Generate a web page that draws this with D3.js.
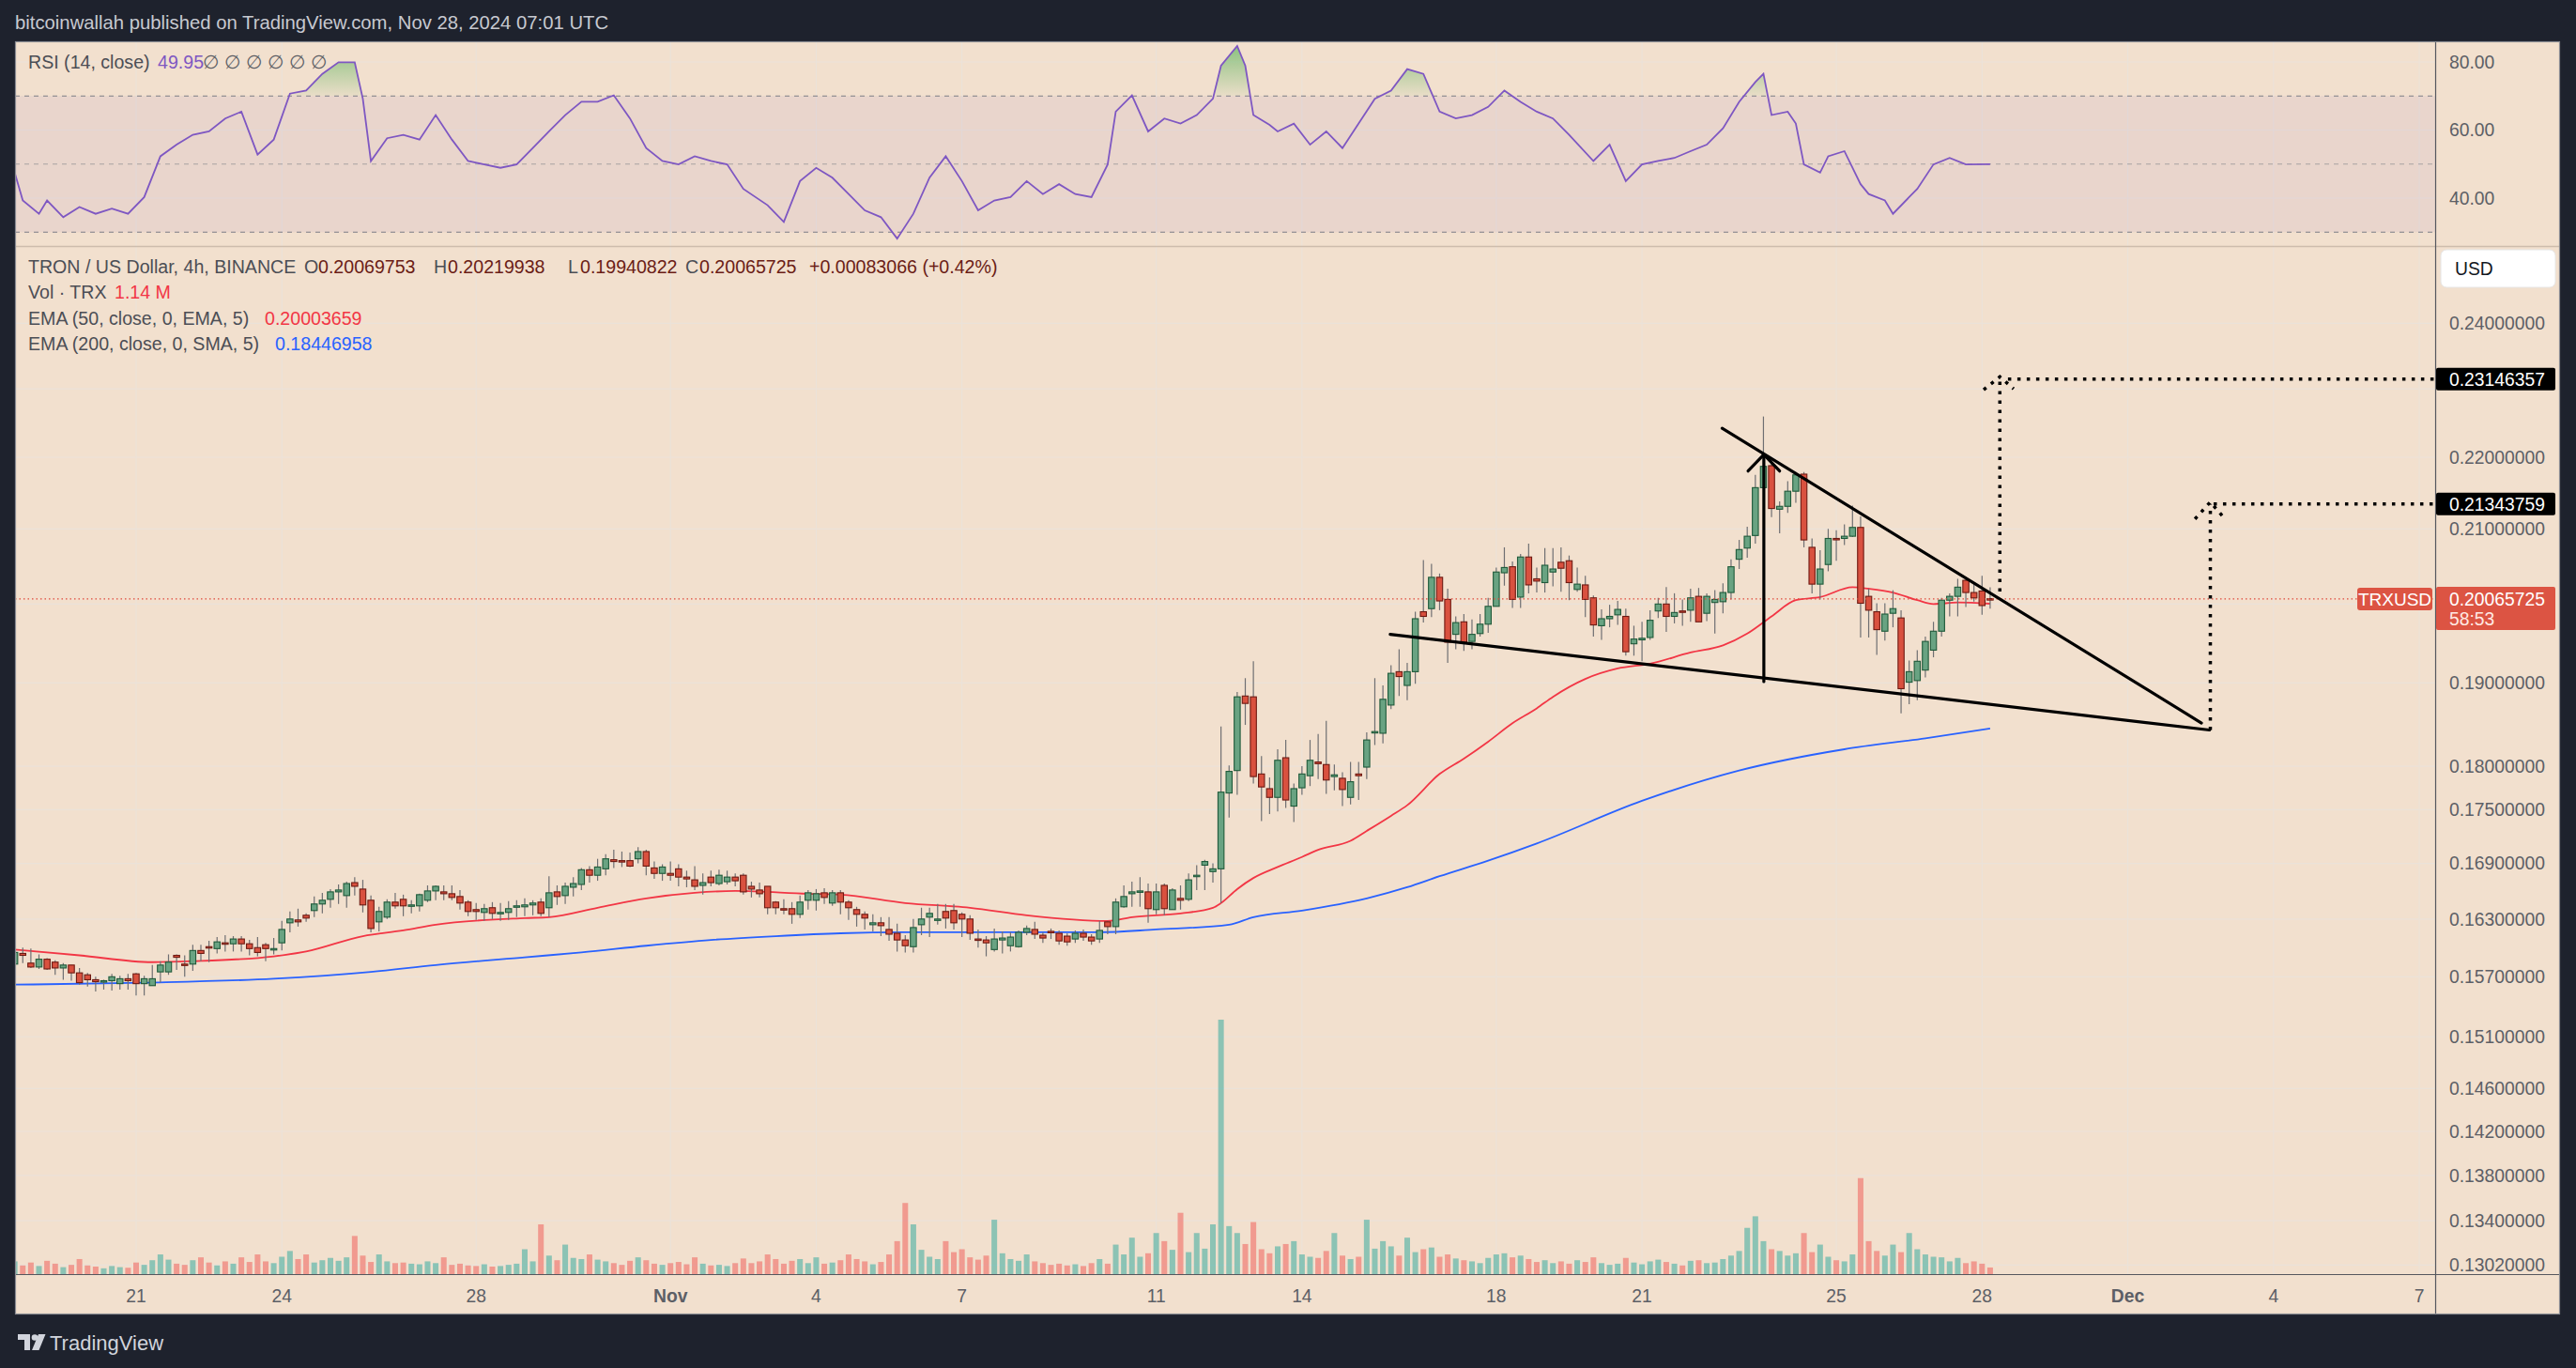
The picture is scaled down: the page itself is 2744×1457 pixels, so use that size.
<!DOCTYPE html>
<html><head><meta charset="utf-8">
<script src="https://cdn.jsdelivr.net/npm/d3@7"></script>
<style>
body{margin:0;background:#1e222d;overflow:hidden}
svg{display:block}
text{font-family:"Liberation Sans",Arial,sans-serif}
</style></head>
<body><svg id="c" width="2744" height="1457"></svg>
<script>
// ---------------- DATA ----------------
const firstCandle = Date.UTC(2024,9,18,12); // 4h candles
const open = [
0.1583,0.1594,0.1584,0.1580,0.1588,0.1585,0.1579,0.1582,0.1574,0.1572,
0.1567,0.1565,0.1566,0.1563,0.1568,0.1573,0.1563,0.1561,0.1575,0.1575,
0.1592,0.1583,0.1583,0.1597,0.1601,0.1599,0.1605,0.1604,0.1609,0.1604,
0.1600,0.1603,0.1598,0.1605,0.1626,0.1629,0.1634,0.1639,0.1646,0.1651,
0.1659,0.1655,0.1669,0.1662,0.1650,0.1627,0.1632,0.1648,0.1651,0.1644,
0.1644,0.1650,0.1660,0.1659,0.1657,0.1654,0.1648,0.1640,0.1637,0.1642,
0.1636,0.1637,0.1643,0.1643,0.1645,0.1648,0.1642,0.1659,0.1655,0.1664,
0.1667,0.1683,0.1677,0.1684,0.1694,0.1693,0.1693,0.1695,0.1703,0.1685,
0.1679,0.1679,0.1684,0.1675,0.1672,0.1666,0.1675,0.1668,0.1670,0.1675,
0.1677,0.1665,0.1661,0.1665,0.1648,0.1641,0.1641,0.1635,0.1650,0.1650,
0.1658,0.1647,0.1658,0.1648,0.1640,0.1635,0.1624,0.1626,0.1619,0.1615,
0.1608,0.1601,0.1624,0.1632,0.1629,0.1638,0.1639,0.1635,0.1630,0.1609,
0.1608,0.1598,0.1608,0.1602,0.1601,0.1616,0.1619,0.1613,0.1617,0.1615,
0.1612,0.1609,0.1615,0.1611,0.1609,0.1627,0.1622,0.1643,0.1657,0.1659,
0.1659,0.1640,0.1666,0.1640,0.1652,0.1651,0.1676,0.1688,0.1681,0.1684,
0.1769,0.1795,0.1884,0.1883,0.1791,0.1774,0.1764,0.1810,0.1754,0.1775,
0.1789,0.1805,0.1802,0.1788,0.1786,0.1764,0.1791,0.1799,0.1840,0.1839,
0.1873,0.1914,0.1897,0.1914,0.1990,0.1994,0.2035,0.2006,0.1961,0.1977,
0.1952,0.1962,0.1974,0.1997,0.2041,0.2049,0.2009,0.2062,0.2033,0.2028,
0.2042,0.2055,0.2057,0.2019,0.2025,0.2008,0.1972,0.1981,0.1986,0.1984,
0.1949,0.1954,0.1957,0.1991,0.2000,0.1984,0.1991,0.1992,0.2010,0.1988,
0.2002,0.2003,0.2015,0.2059,0.2074,0.2091,0.2157,0.2188,0.2127,0.2131,
0.2152,0.2176,0.2075,0.2026,0.2052,0.2087,0.2087,0.2090,0.2102,0.2010,
0.1990,0.1965,0.1988,0.1982,0.1901,0.1903,0.1916,0.1941,0.1965,0.2005,
0.2010,0.2031,0.2015,0.2017,0.20069753];
const high = [
0.1596,0.1600,0.1599,0.1593,0.1589,0.1587,0.1584,0.1582,0.1579,0.1574,
0.1570,0.1567,0.1573,0.1571,0.1573,0.1574,0.1571,0.1582,0.1586,0.1593,
0.1593,0.1592,0.1603,0.1603,0.1607,0.1611,0.1613,0.1612,0.1612,0.1608,
0.1611,0.1605,0.1610,0.1628,0.1638,0.1641,0.1636,0.1654,0.1658,0.1662,
0.1667,0.1670,0.1675,0.1672,0.1655,0.1643,0.1651,0.1658,0.1656,0.1650,
0.1657,0.1666,0.1666,0.1666,0.1666,0.1661,0.1650,0.1647,0.1646,0.1648,
0.1647,0.1649,0.1650,0.1652,0.1650,0.1652,0.1676,0.1666,0.1669,0.1675,
0.1685,0.1687,0.1695,0.1700,0.1705,0.1703,0.1702,0.1708,0.1705,0.1692,
0.1689,0.1692,0.1689,0.1682,0.1687,0.1679,0.1682,0.1683,0.1682,0.1679,
0.1679,0.1670,0.1669,0.1665,0.1649,0.1651,0.1648,0.1655,0.1661,0.1662,
0.1663,0.1661,0.1661,0.1650,0.1643,0.1638,0.1635,0.1632,0.1632,0.1625,
0.1613,0.1630,0.1642,0.1642,0.1646,0.1646,0.1646,0.1637,0.1634,0.1619,
0.1612,0.1620,0.1617,0.1616,0.1618,0.1623,0.1627,0.1616,0.1620,0.1618,
0.1615,0.1618,0.1619,0.1614,0.1628,0.1628,0.1652,0.1666,0.1670,0.1675,
0.1668,0.1668,0.1668,0.1663,0.1666,0.1679,0.1688,0.1694,0.1690,0.1847,
0.1801,0.1889,0.1906,0.1927,0.1812,0.1787,0.1820,0.1831,0.1780,0.1800,
0.1831,0.1838,0.1854,0.1802,0.1793,0.1805,0.1805,0.1840,0.1906,0.1897,
0.1922,0.1942,0.1925,0.1990,0.2058,0.2053,0.2040,0.2020,0.1984,0.1987,
0.1980,0.1987,0.2008,0.2048,0.2075,0.2056,0.2066,0.2080,0.2048,0.2074,
0.2074,0.2075,0.2064,0.2048,0.2037,0.2011,0.1993,0.1999,0.2004,0.1994,
0.1972,0.1977,0.1992,0.2008,0.2022,0.2014,0.2006,0.2020,0.2021,0.2014,
0.2018,0.2027,0.2059,0.2085,0.2103,0.2175,0.2259,0.2196,0.2138,0.2166,
0.2179,0.2179,0.2087,0.2071,0.2100,0.2098,0.2106,0.2132,0.2117,0.2020,
0.2001,0.2001,0.2018,0.1992,0.1928,0.1941,0.1958,0.1977,0.2008,0.2014,
0.2033,0.2035,0.2028,0.2037,0.20219938];
const low = [
0.1582,0.1584,0.1579,0.1578,0.1577,0.1572,0.1567,0.1566,0.1562,0.1560,
0.1555,0.1557,0.1556,0.1557,0.1557,0.1551,0.1551,0.1561,0.1564,0.1572,
0.1577,0.1570,0.1576,0.1586,0.1585,0.1594,0.1596,0.1596,0.1596,0.1592,
0.1591,0.1586,0.1593,0.1597,0.1616,0.1622,0.1627,0.1632,0.1636,0.1642,
0.1646,0.1642,0.1655,0.1637,0.1616,0.1617,0.1630,0.1641,0.1633,0.1636,
0.1638,0.1648,0.1650,0.1650,0.1650,0.1640,0.1633,0.1629,0.1628,0.1630,
0.1628,0.1629,0.1632,0.1633,0.1634,0.1633,0.1632,0.1645,0.1646,0.1654,
0.1661,0.1669,0.1671,0.1677,0.1685,0.1686,0.1686,0.1690,0.1677,0.1673,
0.1671,0.1671,0.1665,0.1664,0.1661,0.1656,0.1665,0.1666,0.1667,0.1665,
0.1656,0.1653,0.1653,0.1635,0.1635,0.1635,0.1625,0.1631,0.1640,0.1639,
0.1646,0.1644,0.1635,0.1629,0.1622,0.1619,0.1617,0.1612,0.1607,0.1596,
0.1595,0.1595,0.1613,0.1611,0.1624,0.1620,0.1619,0.1611,0.1608,0.1600,
0.1591,0.1596,0.1594,0.1596,0.1600,0.1613,0.1609,0.1605,0.1609,0.1603,
0.1602,0.1605,0.1607,0.1603,0.1605,0.1614,0.1614,0.1642,0.1643,0.1643,
0.1626,0.1635,0.1634,0.1640,0.1640,0.1649,0.1661,0.1661,0.1669,0.1647,
0.1741,0.1767,0.1849,0.1780,0.1737,0.1745,0.1748,0.1752,0.1736,0.1767,
0.1777,0.1785,0.1768,0.1772,0.1754,0.1756,0.1761,0.1785,0.1825,0.1827,
0.1868,0.1884,0.1879,0.1899,0.1976,0.1983,0.1992,0.1925,0.1942,0.1940,
0.1942,0.1958,0.1963,0.1997,0.2024,0.1995,0.1995,0.2014,0.2015,0.2015,
0.2023,0.2016,0.2005,0.2016,0.1983,0.1958,0.1954,0.1970,0.1973,0.1934,
0.1934,0.1927,0.1954,0.1982,0.1964,0.1975,0.1972,0.1977,0.1977,0.1978,
0.1962,0.1988,0.2006,0.2046,0.2061,0.2080,0.2157,0.2116,0.2094,0.2122,
0.2136,0.2075,0.2014,0.2006,0.2043,0.2057,0.2078,0.2089,0.1957,0.1957,
0.1935,0.1953,0.1970,0.1863,0.1874,0.1879,0.1907,0.1932,0.1958,0.1984,
0.1984,0.1996,0.2003,0.1986,0.19940822];
const close = [
0.1595,0.1592,0.1580,0.1588,0.1578,0.1579,0.1582,0.1574,0.1564,0.1567,
0.1565,0.1566,0.1570,0.1568,0.1566,0.1563,0.1568,0.1568,0.1582,0.1585,
0.1590,0.1582,0.1597,0.1594,0.1600,0.1606,0.1604,0.1609,0.1604,0.1599,
0.1595,0.1599,0.1599,0.1619,0.1630,0.1627,0.1631,0.1646,0.1650,0.1659,
0.1661,0.1668,0.1665,0.1645,0.1620,0.1638,0.1648,0.1644,0.1644,0.1645,
0.1656,0.1660,0.1665,0.1657,0.1653,0.1647,0.1638,0.1638,0.1641,0.1636,
0.1637,0.1641,0.1644,0.1645,0.1647,0.1636,0.1658,0.1654,0.1665,0.1668,
0.1683,0.1677,0.1686,0.1695,0.1692,0.1692,0.1687,0.1703,0.1687,0.1679,
0.1686,0.1677,0.1675,0.1673,0.1665,0.1669,0.1669,0.1677,0.1675,0.1671,
0.1659,0.1662,0.1657,0.1642,0.1642,0.1640,0.1635,0.1648,0.1658,0.1657,
0.1653,0.1658,0.1648,0.1642,0.1635,0.1631,0.1626,0.1623,0.1614,0.1608,
0.1602,0.1621,0.1630,0.1636,0.1630,0.1631,0.1626,0.1630,0.1615,0.1608,
0.1605,0.1609,0.1610,0.1611,0.1616,0.1620,0.1614,0.1610,0.1616,0.1607,
0.1606,0.1615,0.1611,0.1607,0.1618,0.1622,0.1648,0.1654,0.1659,0.1660,
0.1641,0.1659,0.1641,0.1661,0.1650,0.1672,0.1677,0.1692,0.1684,0.1770,
0.1794,0.1883,0.1875,0.1788,0.1776,0.1764,0.1807,0.1761,0.1774,0.1791,
0.1807,0.1803,0.1784,0.1790,0.1773,0.1782,0.1789,0.1831,0.1841,0.1880,
0.1912,0.1908,0.1914,0.1981,0.1984,0.2035,0.2004,0.1951,0.1976,0.1951,
0.1961,0.1974,0.1997,0.2042,0.2048,0.2006,0.2062,0.2025,0.2030,0.2051,
0.2046,0.2047,0.2028,0.2026,0.2006,0.1973,0.1981,0.1984,0.1993,0.1939,
0.1955,0.1956,0.1979,0.2000,0.1984,0.1989,0.1990,0.2008,0.1977,0.2010,
0.2006,0.2015,0.2049,0.2072,0.2090,0.2157,0.2187,0.2128,0.2131,0.2152,
0.2175,0.2085,0.2026,0.2046,0.2087,0.2086,0.2090,0.2102,0.2001,0.1992,
0.1967,0.1987,0.1994,0.1893,0.1914,0.1927,0.1952,0.1965,0.2005,0.2010,
0.2022,0.2015,0.2008,0.1998,0.20065725];
// volume, millions of TRX
const volume = [
2.2,1.5,2.0,1.4,2.3,1.8,1.2,1.6,2.6,1.5,
1.3,1.0,1.4,1.2,1.1,2.0,1.6,2.4,3.4,2.5,
1.8,1.6,2.4,2.9,2.0,1.5,2.2,1.8,2.9,2.1,
3.4,2.2,1.9,3.0,4.0,2.6,3.4,2.0,2.4,2.8,
2.3,2.9,6.6,3.2,2.1,3.4,2.2,1.9,2.0,1.8,
1.7,2.2,1.9,2.9,1.6,1.8,1.5,1.4,1.7,1.3,
1.4,1.6,1.8,4.3,2.2,8.6,3.2,2.4,5.1,2.8,
2.6,3.4,2.5,2.2,1.9,1.6,2.3,2.9,2.4,1.8,
1.6,1.9,2.1,1.7,2.9,1.8,1.5,1.6,1.4,1.9,
2.7,1.9,2.2,3.4,2.6,1.8,2.3,2.6,1.9,2.9,
1.8,2.0,2.4,3.4,2.6,2.2,1.7,2.1,3.4,5.7,
12.3,8.6,4.2,3.0,2.6,5.7,3.8,4.3,2.9,2.5,
3.2,9.4,3.6,2.6,2.3,3.4,2.2,1.9,1.6,1.8,
1.5,1.7,1.4,1.9,2.6,1.8,5.1,3.4,6.3,3.0,
3.6,7.1,5.7,4.2,10.6,3.8,7.1,4.4,8.6,44,
8.3,7.1,5.2,9.0,4.3,3.6,4.8,5.2,5.7,3.4,
3.0,2.8,4.0,7.1,3.2,2.6,3.0,9.4,4.4,5.7,
4.8,3.2,6.3,3.8,4.3,4.6,3.0,3.4,2.7,2.4,
2.2,1.9,2.8,3.4,3.6,2.9,3.2,2.6,2.1,2.4,
1.9,2.2,1.8,2.4,2.1,2.9,1.9,1.6,1.8,2.8,
2.0,1.7,2.2,2.5,2.1,1.8,1.5,2.3,2.4,1.9,
2.0,2.6,3.2,4.0,8.0,10.0,5.7,4.3,4.0,3.2,
3.6,7.1,3.8,5.1,3.0,2.4,2.2,3.4,16.6,5.7,
4.0,3.2,5.1,3.8,7.1,4.3,3.4,3.0,2.9,2.2,
2.8,1.9,2.2,1.8,1.14];
// EMA lines read at candle indices
const ema50Idx = [0,8,17,22,32,36,43,48,52,63,66,72,78,84,89,98,102,110,118,125,135,138,144,148,149,151,153,156,159,161,165,167,170,172,176,179,182,185,188,190,194,198,202,207,211,214,217,220,223,227,229,232,235,237,240,244];
const ema50Val = [0.1598,0.1592,0.1585,0.1586,0.1591,0.1596,0.1612,0.1618,0.1624,0.1631,0.1632,0.1642,0.1652,0.1658,0.1660,0.1657,0.1656,0.1647,0.1642,0.1634,0.1628,0.1632,0.1636,0.1642,0.1647,0.1662,0.1674,0.1686,0.1697,0.1705,0.1715,0.1726,0.1743,0.1755,0.1791,0.1809,0.1829,0.1851,0.1869,0.1883,0.1905,0.1918,0.1924,0.1938,0.1947,0.1962,0.1984,0.2005,0.2009,0.2022,0.2020,0.2015,0.2005,0.2000,0.2002,0.20003659];
const ema200Idx = [0,16,32,44,52,63,70,78,86,94,102,110,118,125,134,141,150,153,159,167,172,176,182,188,201,213,226,236,244];
const ema200Val = [0.1562,0.1564,0.1568,0.1575,0.1582,0.1590,0.1595,0.1602,0.1608,0.1612,0.1615,0.1616,0.1616,0.1616,0.1616,0.1619,0.1624,0.1632,0.1639,0.1652,0.1664,0.1676,0.1693,0.1712,0.1760,0.1795,0.1820,0.1833,0.18446958];
// RSI (14) read at candle indices
const rsiIdx = [0,1,3,4,6,8,10,12,14,16,18,20,22,24,26,28,30,32,34,36,38,40,42,43,44,46,48,50,52,54,56,58,60,62,64,66,68,70,72,74,76,78,80,82,84,86,88,90,93,95,97,99,101,103,105,107,109,111,113,115,117,119,121,123,125,127,129,131,133,135,136,138,140,142,144,146,148,149,151,152,153,155,156,158,160,162,164,166,168,170,172,174,176,178,180,182,184,186,188,190,192,195,197,199,201,203,205,207,209,211,213,215,216,217,219,220,221,223,224,226,228,229,231,232,234,235,237,239,241,244];
const rsiVal = [47.5,39.3,35.4,39.3,34.4,37.4,35.4,36.9,35.4,40.3,52.3,55.7,58.6,59.6,63.4,65.4,52.8,57.2,70.7,71.6,76.5,79.9,79.9,69.2,50.9,57.6,58.6,57.2,64.4,57.2,50.9,49.9,48.9,49.9,54.7,59.6,64.4,68.3,68.3,70.2,63.4,54.7,50.9,49.9,52.3,50.9,49.9,42.7,37.9,33.0,45.0,48.9,46.0,41.2,36.4,34.4,28.1,35.4,46.0,52.3,45.0,36.4,39.3,40.3,45.0,41.2,44.1,41.2,40.3,49.9,65.4,70.2,59.6,63.4,61.9,64.4,69.2,78.9,84.7,78.9,64.4,61.5,59.6,61.9,55.7,59.6,54.7,61.9,69.2,71.6,77.9,76.5,65.4,63.4,64.4,66.8,71.6,68.3,65.4,63.4,58.6,50.9,55.7,45.0,49.9,50.9,51.8,53.8,55.7,60.5,68.3,74.1,76.5,64.4,65.4,61.9,49.9,47.5,52.3,53.8,44.1,41.2,39.3,35.4,40.3,42.7,49.9,51.8,49.9,49.95];
// ticks
const priceTicks = [0.24,0.23,0.22,0.21,0.20,0.19,0.18,0.175,0.169,0.163,0.157,0.151,0.146,0.142,0.138,0.134,0.1302];
const hiddenTicks = [0.23,0.20]; // covered by price badges
const rsiTicks = [80,60,40];
const dateTicks = [[2024,9,21],[2024,9,24],[2024,9,28],[2024,10,1],[2024,10,4],[2024,10,7],[2024,10,11],[2024,10,14],[2024,10,18],[2024,10,21],[2024,10,25],[2024,10,28],[2024,11,1],[2024,11,4],[2024,11,7]];
const dateLabels = ["21","24","28","Nov","4","7","11","14","18","21","25","28","Dec","4","7"];
// drawings: [candle index, price]
const upperLine = [[210.9,0.22419],[270.1,0.18513]];
const lowerLine = [[169.9,0.19609],[271.1,0.18429]];
const poleLine = [[216.05,0.2204],[216.05,0.19017]];
const poleHead = [[214.1,0.21804],[216.05,0.2204],[218.0,0.21804]];
const target1 = 0.23146357, target2 = 0.21343759;
const proj1 = [[245.2,0.20163],[245.2,0.23146357]];
const head1 = [[243.2,0.22987],[245.2,0.2318],[246.9,0.2300]];
const proj2 = [[271.2,0.18429],[271.2,0.21343759]];
const head2 = [[269.3,0.21136],[271.2,0.2137],[272.9,0.2115]];
const lastPrice = 0.20065725;

// ---------------- LAYOUT ----------------
const W=2744,H=1457, L=16, PR=2594, AR=2727, T=44, RB=262, MT=263, MB=1357, TB=1400;
const BG="#f2e0ce", GRID="#ebe2d9", AXT="#5d5f66", LEG="#4c4e55";
const svg=d3.select("#c");
const x=d3.scaleUtc().domain([new Date(Date.UTC(2024,9,21)),new Date(Date.UTC(2024,11,7))]).range([145,2577]);
const H4=4*3600*1000;
const xi=i=>x(new Date(firstCandle+i*H4));
const y=d3.scaleLog().domain([0.24,0.1302]).range([344.3,1347.3]);
const yR=d3.scaleLinear().domain([80,40]).range([66,211]);
const yV=d3.scaleLinear().domain([0,44]).range([MB,MB-271]);

svg.append("rect").attr("width",W).attr("height",H).attr("fill","#1e222d");
svg.append("rect").attr("x",L).attr("y",T).attr("width",AR-L).attr("height",TB-T).attr("fill",BG);

const defs=svg.append("defs");
defs.append("clipPath").attr("id","cm").append("rect").attr("x",L).attr("y",MT).attr("width",PR-L).attr("height",MB-MT);
defs.append("clipPath").attr("id","cr").append("rect").attr("x",L).attr("y",T).attr("width",PR-L).attr("height",RB-T);
defs.append("clipPath").attr("id","cob").append("rect").attr("x",L).attr("y",T).attr("width",PR-L).attr("height",yR(70)-T);
defs.append("clipPath").attr("id","cos").append("rect").attr("x",L).attr("y",yR(30)).attr("width",PR-L).attr("height",RB-yR(30));
const gOB=defs.append("linearGradient").attr("id","gob").attr("x1",0).attr("x2",0).attr("gradientUnits","userSpaceOnUse").attr("y1",yR(88)).attr("y2",yR(70));
gOB.append("stop").attr("offset",0).attr("stop-color","rgba(76,175,80,0.75)");
gOB.append("stop").attr("offset",1).attr("stop-color","rgba(76,175,80,0.05)");
const gOS=defs.append("linearGradient").attr("id","gos").attr("x1",0).attr("x2",0).attr("gradientUnits","userSpaceOnUse").attr("y1",yR(30)).attr("y2",yR(15));
gOS.append("stop").attr("offset",0).attr("stop-color","rgba(242,54,69,0.05)");
gOS.append("stop").attr("offset",1).attr("stop-color","rgba(242,54,69,0.75)");

// grid
const grid=svg.append("g");
dateTicks.forEach(d=>{const xx=x(new Date(Date.UTC(d[0],d[1],d[2])));
  grid.append("line").attr("x1",xx).attr("x2",xx).attr("y1",T).attr("y2",MB).attr("stroke",GRID).attr("stroke-width",1.2);});
priceTicks.forEach(p=>grid.append("line").attr("x1",L).attr("x2",PR).attr("y1",y(p)).attr("y2",y(p)).attr("stroke",GRID).attr("stroke-width",1.2));
rsiTicks.forEach(v=>grid.append("line").attr("x1",L).attr("x2",PR).attr("y1",yR(v)).attr("y2",yR(v)).attr("stroke",GRID).attr("stroke-width",1.2));

// RSI pane
const rg=svg.append("g").attr("clip-path","url(#cr)");
rg.append("rect").attr("x",L).attr("width",PR-L).attr("y",yR(70)).attr("height",yR(30)-yR(70)).attr("fill","rgba(126,87,194,0.08)");
[[70,"#7c7e87"],[50,"rgba(124,126,135,0.6)"],[30,"#7c7e87"]].forEach(([v,c])=>
  rg.append("line").attr("x1",L).attr("x2",PR).attr("y1",yR(v)).attr("y2",yR(v)).attr("stroke",c).attr("stroke-dasharray","5,5"));
const rsiPts=rsiIdx.map((k,j)=>[xi(k),yR(rsiVal[j])]);
rg.append("path").attr("clip-path","url(#cob)").attr("d",d3.area().x(d=>d[0]).y0(yR(70)).y1(d=>d[1])(rsiPts)).attr("fill","url(#gob)");
rg.append("path").attr("clip-path","url(#cos)").attr("d",d3.area().x(d=>d[0]).y0(yR(30)).y1(d=>d[1])(rsiPts)).attr("fill","url(#gos)");
rg.append("path").attr("d",d3.line()(rsiPts)).attr("fill","none").attr("stroke","#7e57c2").attr("stroke-width",1.8);

// separator between panes
svg.append("line").attr("x1",L).attr("x2",AR).attr("y1",RB+0.5).attr("y2",RB+0.5).attr("stroke","#cdbdad").attr("stroke-width",1.5);

// main pane
const mg=svg.append("g").attr("clip-path","url(#cm)");
const N=close.length, idx=d3.range(N);
mg.selectAll("rect.v").data(idx).join("rect").attr("x",i=>xi(i)-3).attr("width",6)
  .attr("y",i=>yV(volume[i])).attr("height",i=>MB-yV(volume[i]))
  .attr("fill",i=>close[i]>=open[i]?"rgba(38,166,154,0.5)":"rgba(239,83,80,0.5)");
const ln=d3.line().x(d=>d[0]).y(d=>d[1]).curve(d3.curveMonotoneX);
mg.append("path").attr("d",ln(ema200Idx.map((k,j)=>[xi(k),y(ema200Val[j])]))).attr("fill","none").attr("stroke","#2962ff").attr("stroke-width",1.8);
mg.append("path").attr("d",ln(ema50Idx.map((k,j)=>[xi(k),y(ema50Val[j])]))).attr("fill","none").attr("stroke","#f23645").attr("stroke-width",1.8);
// candles
mg.selectAll("line.w").data(idx).join("line").attr("x1",i=>xi(i)).attr("x2",i=>xi(i))
  .attr("y1",i=>y(high[i])).attr("y2",i=>y(low[i])).attr("stroke","#6f6f72").attr("stroke-width",1.2);
mg.selectAll("rect.b").data(idx).join("rect").attr("x",i=>xi(i)-3.2).attr("width",6.4)
  .attr("y",i=>y(Math.max(open[i],close[i])))
  .attr("height",i=>Math.max(1.5,y(Math.min(open[i],close[i]))-y(Math.max(open[i],close[i]))))
  .attr("fill",i=>close[i]>=open[i]?"#69a382":"#d9513f")
  .attr("stroke",i=>close[i]>=open[i]?"#1f5a3a":"#6e1a12").attr("stroke-width",1.1);
// last price line
mg.append("line").attr("x1",L).attr("x2",PR).attr("y1",y(lastPrice)).attr("y2",y(lastPrice))
  .attr("stroke","#e0483c").attr("stroke-width",1.2).attr("stroke-dasharray","1.5,3");

// drawings
const P=d=>[xi(d[0]),y(d[1])];
const dl=d3.line();
const dg=svg.append("g").attr("clip-path","url(#cm)").attr("fill","none");
[upperLine,lowerLine,poleLine].forEach(a=>dg.append("path").attr("d",dl(a.map(P))).attr("stroke","#000").attr("stroke-width",3.2).attr("stroke-linecap","round"));
dg.append("path").attr("d",dl(poleHead.map(P))).attr("stroke","#000").attr("stroke-width",3.2).attr("stroke-linecap","round").attr("stroke-linejoin","round");
[proj1,proj2,head1,head2].forEach(a=>dg.append("path").attr("d",dl(a.map(P))).attr("stroke","#000").attr("stroke-width",3.5).attr("stroke-dasharray","3.5,6.5"));
dg.append("path").attr("d",dl([[xi(246.2),y(target1)],[PR,y(target1)]])).attr("stroke","#000").attr("stroke-width",3.5).attr("stroke-dasharray","3.5,6.5");
dg.append("path").attr("d",dl([[xi(271.6),y(target2)],[PR,y(target2)]])).attr("stroke","#000").attr("stroke-width",3.5).attr("stroke-dasharray","3.5,6.5");

// frame lines
svg.append("line").attr("x1",PR+0.5).attr("x2",PR+0.5).attr("y1",T).attr("y2",TB).attr("stroke","#55575e").attr("stroke-width",1.2);
svg.append("line").attr("x1",L).attr("x2",AR).attr("y1",MB+0.5).attr("y2",MB+0.5).attr("stroke","#55575e").attr("stroke-width",1.2);
svg.append("rect").attr("x",L+0.5).attr("y",T+0.5).attr("width",AR-L-1).attr("height",TB-T-1).attr("fill","none").attr("stroke","#8a8c93").attr("stroke-width",1.2);

// axes labels
const ax=svg.append("g").attr("font-size",19.3).attr("fill",AXT);
priceTicks.filter(p=>!hiddenTicks.includes(p)).forEach(p=>ax.append("text").attr("x",2609).attr("y",y(p)).attr("dy","0.36em").text(d3.format(".8f")(p)));
rsiTicks.forEach(v=>ax.append("text").attr("x",2609).attr("y",yR(v)).attr("dy","0.36em").text(d3.format(".2f")(v)));
dateTicks.forEach((d,k)=>ax.append("text").attr("x",x(new Date(Date.UTC(d[0],d[1],d[2])))).attr("y",1380).attr("dy","0.36em")
  .attr("text-anchor","middle").attr("font-weight",isNaN(+dateLabels[k])?"bold":"normal").text(dateLabels[k]));

// axis badges
function badge(yc,h,fill,t){
  svg.append("rect").attr("x",PR+1).attr("y",yc-h/2).attr("width",AR-PR-6).attr("height",h).attr("rx",2).attr("fill",fill);
  svg.append("text").attr("x",2609).attr("y",yc).attr("dy","0.36em").attr("font-size",19.3).attr("fill","#fff").text(t);
}
badge(y(target1),24,"#000",d3.format(".8f")(target1));
badge(y(target2),24,"#000",d3.format(".8f")(target2));
{
  const yc=y(lastPrice);
  svg.append("rect").attr("x",PR+1).attr("y",yc-13).attr("width",AR-PR-6).attr("height",46).attr("rx",2).attr("fill","#dc5443");
  svg.append("text").attr("x",2609).attr("y",yc).attr("dy","0.36em").attr("font-size",19.3).attr("fill","#fff").text(d3.format(".8f")(lastPrice));
  svg.append("text").attr("x",2609).attr("y",yc+21).attr("dy","0.36em").attr("font-size",19.3).attr("fill","#ffe9e4").text("58:53");
  svg.append("rect").attr("x",2511).attr("y",yc-12).attr("width",80).attr("height",24).attr("rx",3).attr("fill","#dc5443");
  svg.append("text").attr("x",2551).attr("y",yc).attr("dy","0.36em").attr("text-anchor","middle").attr("font-size",19).attr("fill","#fff").text("TRXUSD");
}
// USD button
svg.append("rect").attr("x",2600).attr("y",266).attr("width",122).attr("height",40).attr("rx",6).attr("fill","#fff").attr("stroke","#e6e6e6");
svg.append("text").attr("x",2615).attr("y",286).attr("dy","0.36em").attr("font-size",19.3).attr("fill","#131722").text("USD");

// legends
const lg=svg.append("g").attr("font-size",19.6);
function row(yy,parts){parts.forEach(([xx,t,c])=>lg.append("text").attr("x",xx).attr("y",yy).attr("dy","0.36em").attr("fill",c).text(t));}
const VC="#6b1d16";
row(66,[[30,"RSI (14, close)",LEG],[168,"49.95","#7e57c2"],[216,"∅",AXT],[239,"∅",AXT],[262,"∅",AXT],[285,"∅",AXT],[308,"∅",AXT],[331,"∅",AXT]]);
row(284,[[30,"TRON / US Dollar, 4h, BINANCE",LEG],[324,"O",LEG],[339,"0.20069753",VC],[462,"H",LEG],[477,"0.20219938",VC],[605,"L",LEG],[618,"0.19940822",VC],[730,"C",LEG],[745,"0.20065725",VC],[862,"+0.00083066 (+0.42%)",VC]]);
row(311,[[30,"Vol · TRX",LEG],[122,"1.14 M","#f23645"]]);
row(339,[[30,"EMA (50, close, 0, EMA, 5)",LEG],[282,"0.20003659","#f23645"]]);
row(366,[[30,"EMA (200, close, 0, SMA, 5)",LEG],[293,"0.18446958","#2962ff"]]);

// header / footer
svg.append("text").attr("x",16).attr("y",24).attr("dy","0.36em").attr("font-size",20.3).attr("fill","#c7c9d0").text("bitcoinwallah published on TradingView.com, Nov 28, 2024 07:01 UTC");
const lo=svg.append("g").attr("fill","#d1d4dc");
lo.append("path").attr("d","M19 1421 h13 v17 h-6 v-11 h-7 z");
lo.append("circle").attr("cx",37).attr("cy",1424.5).attr("r",3.3);
lo.append("path").attr("d","M41 1421 h7.5 l-7 17 h-7.5 z");
svg.append("text").attr("x",53).attr("y",1430).attr("dy","0.36em").attr("font-size",22).attr("fill","#d1d4dc").text("TradingView");
</script>
</body></html>
